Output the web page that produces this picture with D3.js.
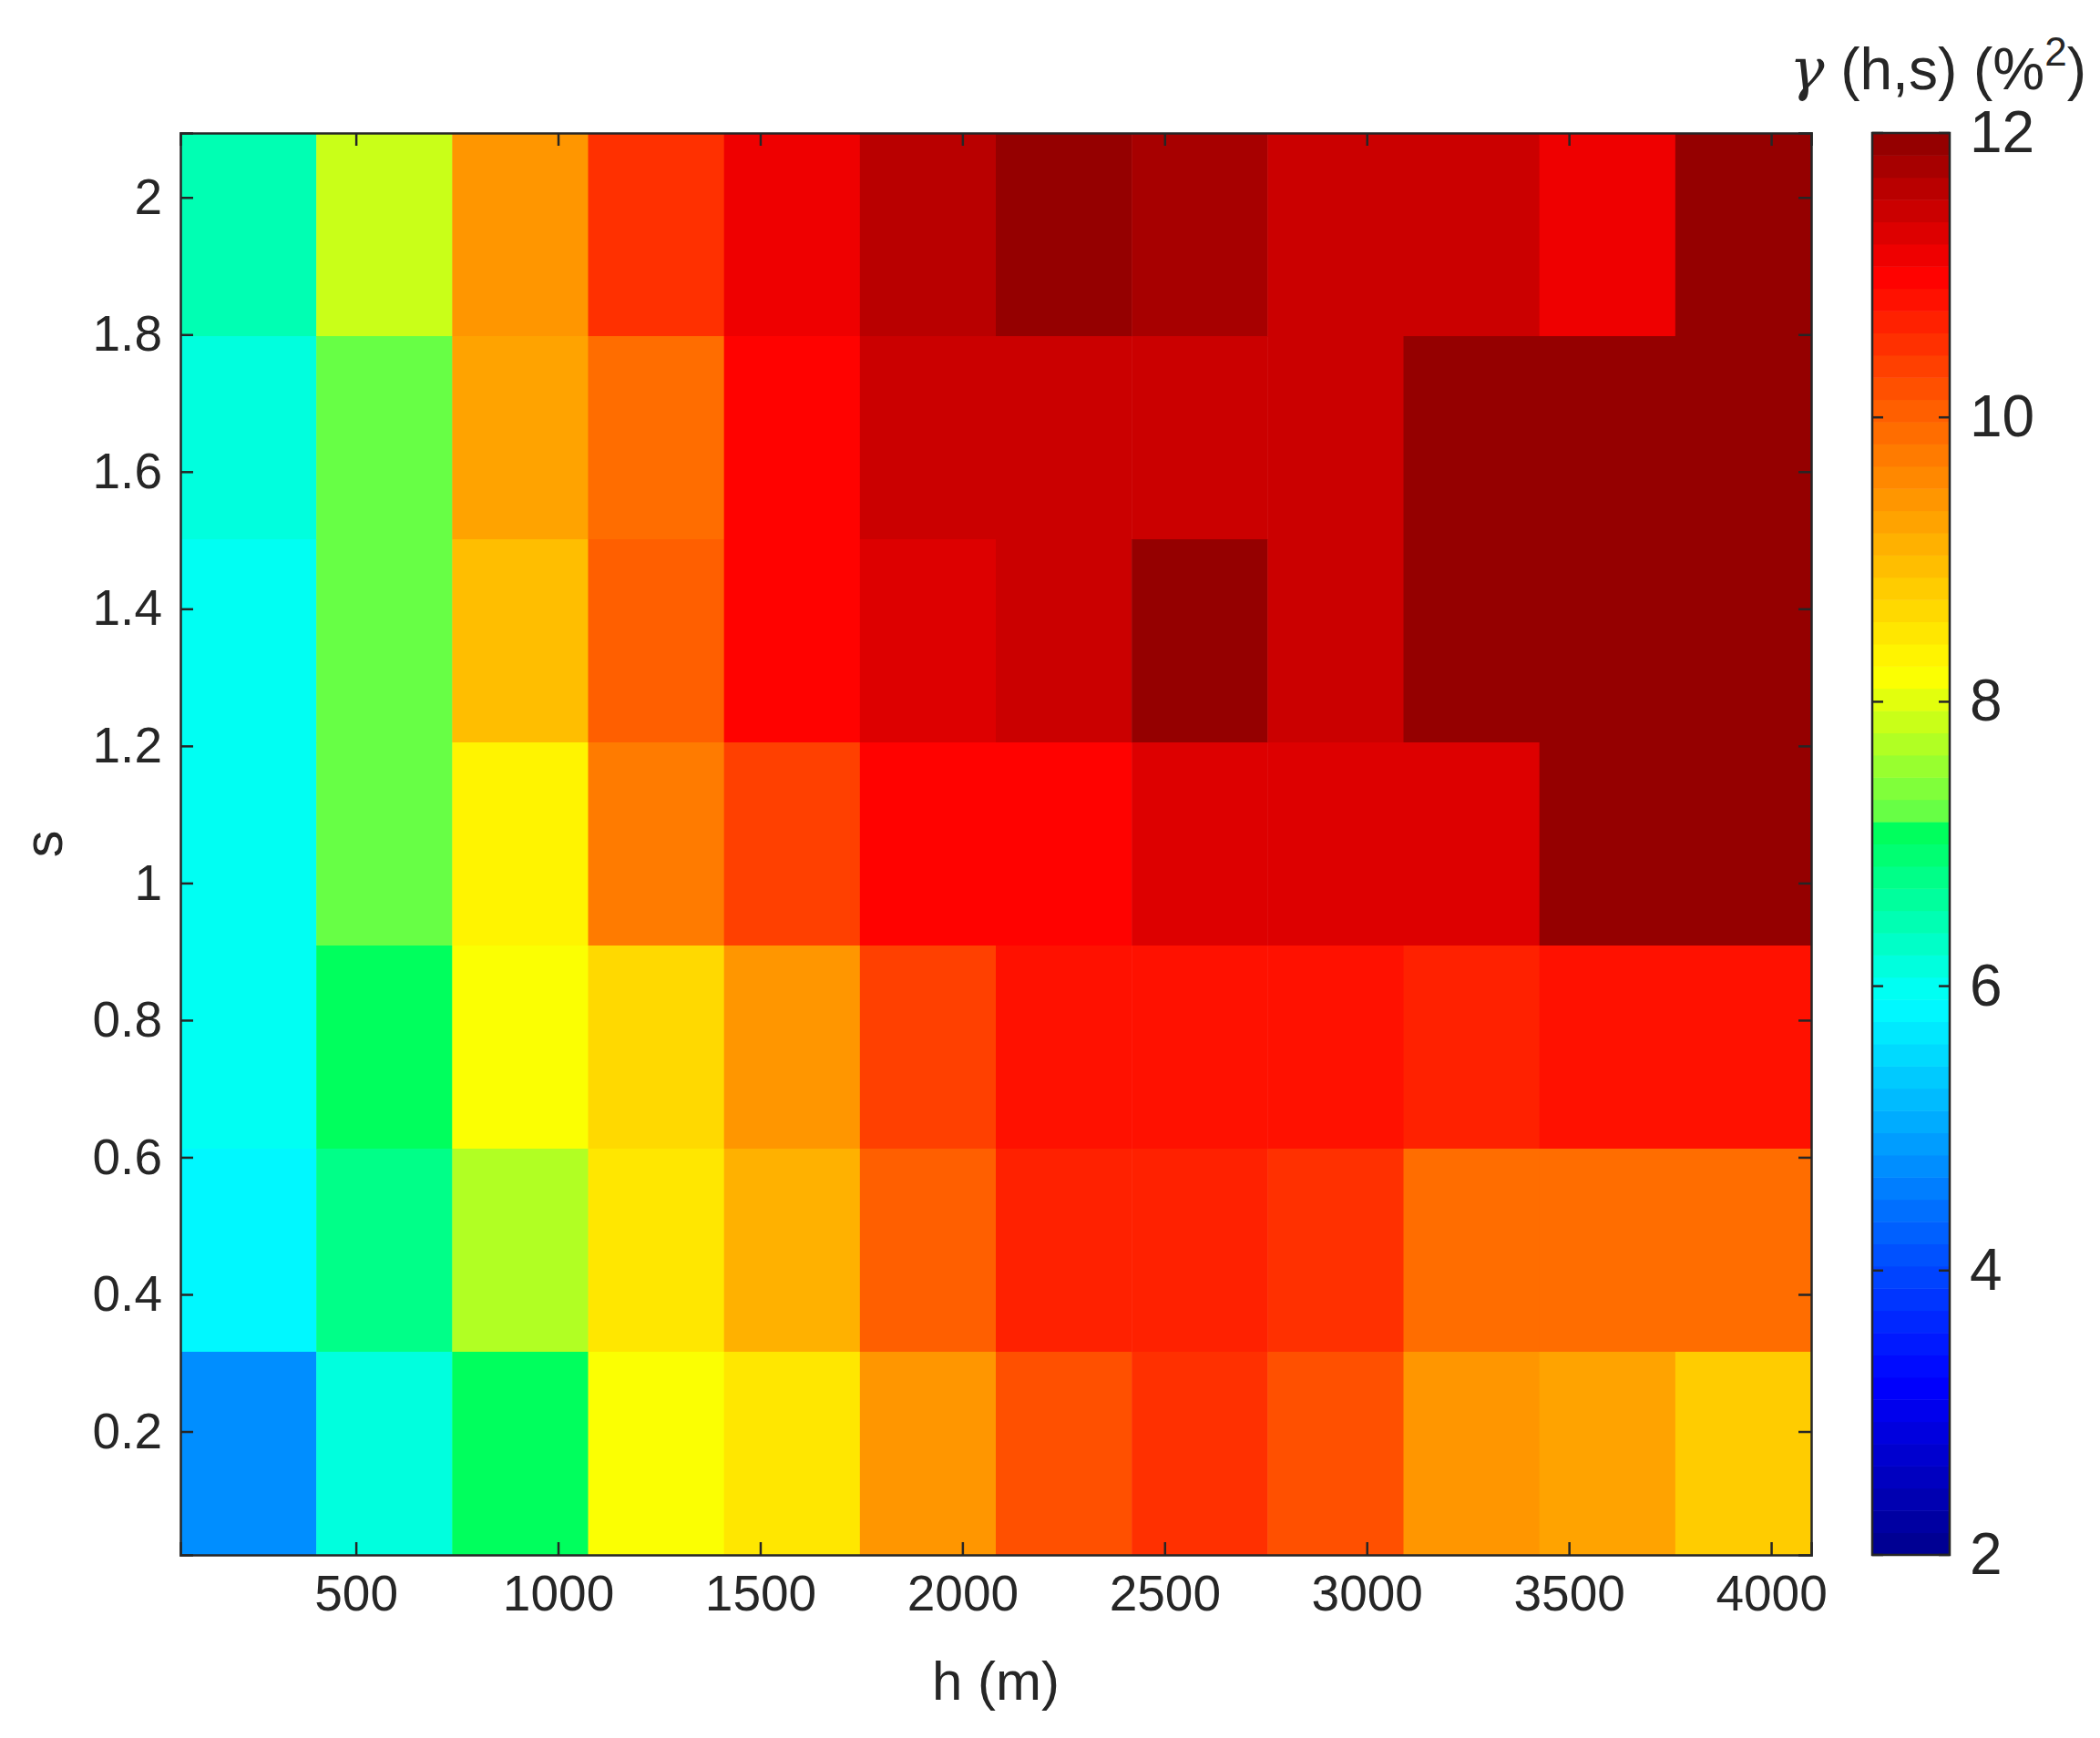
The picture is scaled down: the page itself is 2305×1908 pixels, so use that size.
<!DOCTYPE html>
<html><head><meta charset="utf-8">
<script src="https://d3js.org/d3.v7.min.js"></script>
<style>body{margin:0;background:#fff}svg text{font-family:Arial,"Liberation Sans",sans-serif;fill:#262626}</style>
</head><body><svg id="c" width="2305" height="1908"></svg>
<script>
const hEdges=[66,4099];
const sEdges=[0.02,2.094];
const xTicks=[500,1000,1500,2000,2500,3000,3500,4000];
const yTicks=[0.2,0.4,0.6,0.8,1,1.2,1.4,1.6,1.8,2];
const cTicks=[2,4,6,8,10,12];
// rows from top (high s) to bottom (low s), 12 columns of h
const gamma=[
[6.5,7.85,9.35,10.5,11.15,11.65,11.9,11.7,11.5,11.4,11.15,11.9],
[6.2,7.2,9.2,9.9,11.0,11.4,11.5,11.5,11.4,11.9,11.9,11.9],
[5.95,7.2,9.0,10.1,11.0,11.3,11.5,11.9,11.5,11.9,11.9,11.9],
[5.95,7.2,8.35,9.7,10.4,11.0,11.0,11.25,11.25,11.25,11.9,11.9],
[5.95,7.0,8.1,8.6,9.45,10.35,10.9,10.9,10.9,10.7,10.9,10.9],
[5.75,6.75,7.75,8.55,9.15,10.0,10.7,10.7,10.55,9.9,9.9,9.9],
[4.75,6.2,7.0,8.1,8.55,9.4,10.2,10.5,10.2,9.45,9.2,8.8]];
const nC=12,nR=7;
const cmin=2,cmax=12;
const stopV=[2,3.2,4.1,5.9,7.1,7.15,8.2,10,11,12];
const stopC=["#00008c","#0000ff","#0050ff","#00ffff","#00ff5a","#5aff4b","#ffff00","#ff6400","#ff0000","#8c0000"];
const cm=d3.scaleLinear().domain(stopV).range(stopC).clamp(true);
function color(v){const L=64;let i=Math.min(L-1,Math.max(0,Math.floor((v-cmin)/(cmax-cmin)*L)));return cm(cmin+(i+0.5)/L*(cmax-cmin));}
const svg=d3.select("#c");
const L=198,R=1988,T=146,B=1707;
const x=d3.scaleLinear().domain(hEdges).range([L,R]);
const y=d3.scaleLinear().domain(sEdges).range([B,T]);
const dh=(hEdges[1]-hEdges[0])/nC, ds=(sEdges[1]-sEdges[0])/nR;
const cells=[];gamma.forEach((row,r)=>row.forEach((v,c)=>cells.push({r,c,v})));
svg.selectAll("rect.cell").data(cells).enter().append("rect")
 .attr("x",d=>x(hEdges[0]+d.c*dh)).attr("width",d=>x(hEdges[0]+(d.c+1)*dh)-x(hEdges[0]+d.c*dh)+0.5)
 .attr("y",d=>y(sEdges[1]-d.r*ds)).attr("height",d=>y(sEdges[1]-(d.r+1)*ds)-y(sEdges[1]-d.r*ds)+0.5)
 .attr("fill",d=>color(d.v));
const fs=55;
const gx=svg.append("g").attr("transform",`translate(0,${B})`).call(d3.axisBottom(x).tickValues(xTicks).tickSize(-14).tickPadding(22).tickFormat(d3.format("d")));
const gx2=svg.append("g").attr("transform",`translate(0,${T})`).call(d3.axisTop(x).tickValues(xTicks).tickSize(-14).tickFormat(""));
const gy=svg.append("g").attr("transform",`translate(${L},0)`).call(d3.axisLeft(y).tickValues(yTicks).tickSize(-14).tickPadding(20).tickFormat(d3.format("")));
const gy2=svg.append("g").attr("transform",`translate(${R},0)`).call(d3.axisRight(y).tickValues(yTicks).tickSize(-14).tickFormat(""));
[gx,gx2,gy,gy2].forEach(g=>{g.selectAll("path,line").attr("stroke","#262626").attr("stroke-width",2.5);g.selectAll("text").attr("font-size",fs).attr("fill","#262626");});
svg.append("text").attr("x",(L+R)/2).attr("y",1866).attr("text-anchor","middle").attr("font-size",60).text("h (m)");
svg.append("text").attr("transform",`translate(68,${(T+B)/2}) rotate(-90)`).attr("text-anchor","middle").attr("font-size",60).text("s");
// colorbar
const cx0=2055,cx1=2140;
const cy=d3.scaleLinear().domain([cmin,cmax]).range([B,T]);
const steps=d3.range(64);
svg.selectAll("rect.cb").data(steps).enter().append("rect")
 .attr("x",cx0).attr("width",cx1-cx0)
 .attr("y",i=>cy(cmin+(i+1)*(cmax-cmin)/64)).attr("height",i=>cy(cmin+i*(cmax-cmin)/64)-cy(cmin+(i+1)*(cmax-cmin)/64)+0.5)
 .attr("fill",i=>color(cmin+(i+0.5)*(cmax-cmin)/64));
const gc=svg.append("g").attr("transform",`translate(${cx1},0)`).call(d3.axisRight(cy).tickValues(cTicks).tickSize(0).tickPadding(22));
gc.selectAll("text").attr("font-size",64).attr("fill","#262626");
gc.select("path").remove();
cTicks.forEach(t=>{svg.append("line").attr("x1",cx1-12).attr("x2",cx1).attr("y1",cy(t)).attr("y2",cy(t)).attr("stroke","#262626").attr("stroke-width",2.5);
 svg.append("line").attr("x1",cx0).attr("x2",cx0+12).attr("y1",cy(t)).attr("y2",cy(t)).attr("stroke","#262626").attr("stroke-width",2.5);});
svg.append("rect").attr("x",cx0).attr("y",T).attr("width",cx1-cx0).attr("height",B-T).attr("fill","none").attr("stroke","#262626").attr("stroke-width",2.5);
const ct=svg.append("text").attr("x",2290).attr("y",98).attr("text-anchor","end").attr("font-size",64);
ct.append("tspan").attr("font-style","italic").attr("font-family","'DejaVu Serif',serif").text("γ");
ct.append("tspan").text(" (h,s) (%");
ct.append("tspan").attr("dy",-26).attr("font-size",44).text("2");
ct.append("tspan").attr("dy",26).text(")");
</script></body></html>
